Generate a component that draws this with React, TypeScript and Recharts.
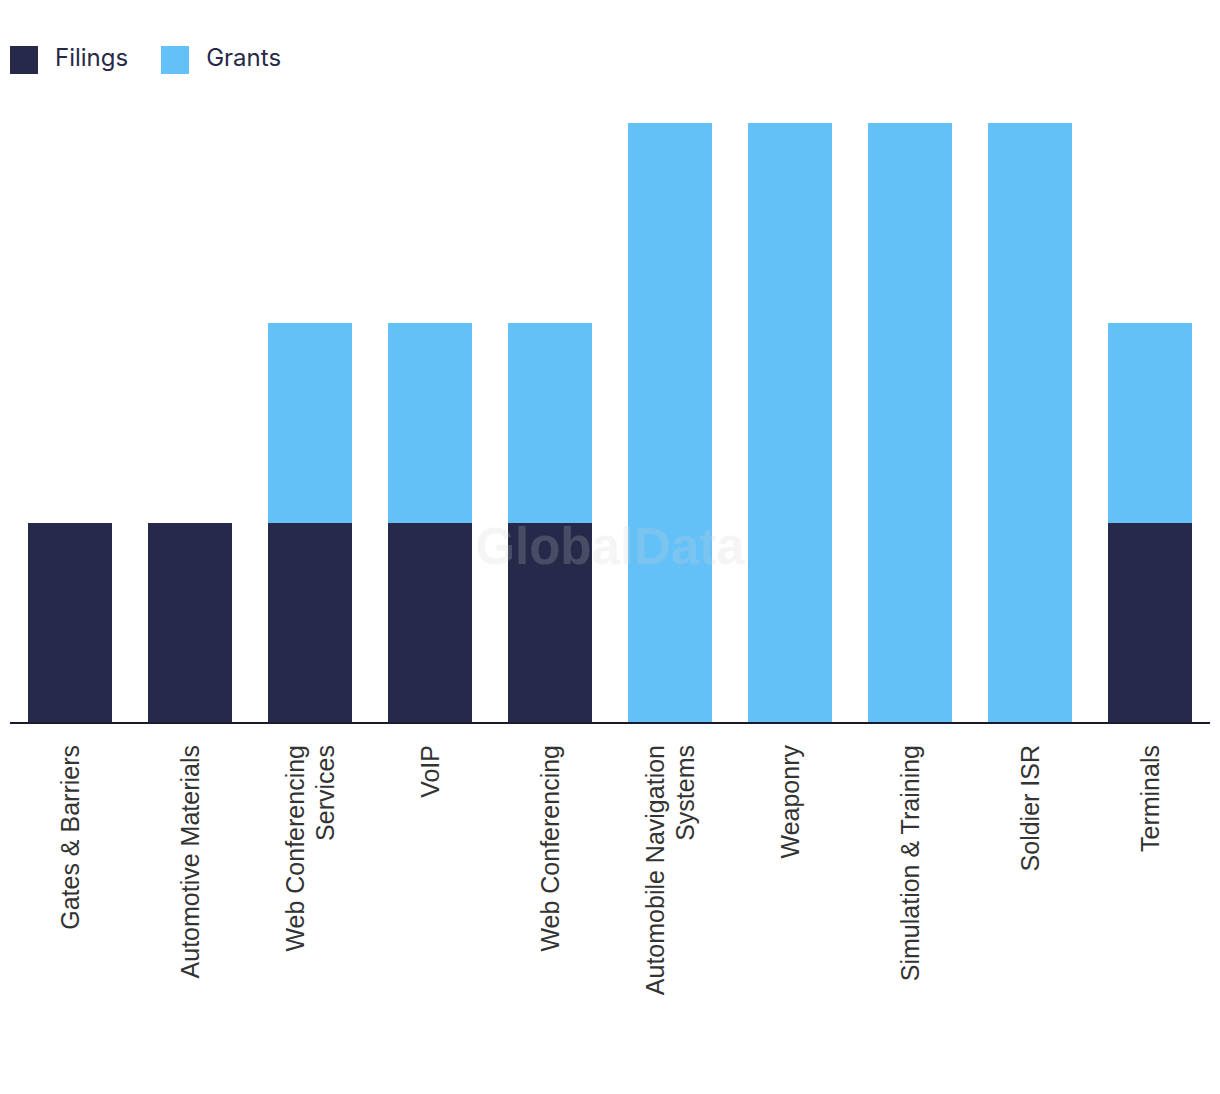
import { BarChart, Bar, XAxis, YAxis } from 'recharts';

const categories = [
  'Gates & Barriers',
  'Automotive Materials',
  'Web Conferencing Services',
  'VoIP',
  'Web Conferencing',
  'Automobile Navigation Systems',
  'Weaponry',
  'Simulation & Training',
  'Soldier ISR',
  'Terminals',
];
const filings = [1, 1, 1, 1, 1, 0, 0, 0, 0, 1];
const grants = [0, 0, 1, 1, 1, 3, 3, 3, 3, 1];

const FILINGS_COLOR = '#262949';
const GRANTS_COLOR = '#63c1f8';

const data = categories.map((name, i) => ({
  name,
  filings: filings[i],
  grants: grants[i],
}));

function wrapLabel(text: string, maxChars = 22) {
  const words = text.split(' ');
  const lines: string[] = [];
  let cur = '';
  for (const w of words) {
    const next = cur ? cur + ' ' + w : w;
    if (next.length > maxChars && cur) {
      lines.push(cur);
      cur = w;
    } else {
      cur = next;
    }
  }
  if (cur) lines.push(cur);
  return lines;
}

function CategoryTick(props: any) {
  const { x, payload } = props;
  const lines = wrapLabel(payload.value);
  const lineGap = 30;
  const start = -((lines.length - 1) * lineGap) / 2 + 9;
  return (
    <g transform={`translate(${x}, 745)`}>
      <text
        transform="rotate(-90)"
        textAnchor="end"
        fill="#333"
        fontSize={25}
        fontFamily="'Liberation Sans', Arial, sans-serif"
      >
        {lines.map((line, i) => (
          <tspan key={i} x={0} y={start + i * lineGap}>
            {line}
          </tspan>
        ))}
      </text>
    </g>
  );
}

function LegendBox() {
  const items = [
    { label: 'Filings', color: FILINGS_COLOR },
    { label: 'Grants', color: GRANTS_COLOR },
  ];
  return (
    <div style={{ position: 'absolute', left: 10, top: 46, display: 'flex', alignItems: 'center', height: 28 }}>
      {items.map((it) => (
        <div key={it.label} style={{ display: 'flex', alignItems: 'center', marginRight: 33 }}>
          <span style={{ width: 28, height: 28, background: it.color, display: 'inline-block', marginRight: 17 }} />
          <span
            style={{
              fontFamily: "Inter, 'Noto Sans', sans-serif",
              fontSize: 24,
              lineHeight: '24px',
              color: FILINGS_COLOR,
              position: 'relative',
              top: -2,
            }}
          >
            {it.label}
          </span>
        </div>
      ))}
    </div>
  );
}

export default function App() {
  return (
    <div style={{ position: 'relative', margin: '-8px 0 0 -8px', width: 1220, height: 1094 }}>
      <BarChart
        width={1220}
        height={1094}
        data={data}
        barCategoryGap="15%"
        margin={{ top: 123, right: 10, left: 10, bottom: 0 }}
      >
        <YAxis hide domain={[0, 3]} />
        <XAxis
          dataKey="name"
          interval={0}
          height={371}
          tickLine={false}
          axisLine={{ stroke: '#1a1a2e', strokeWidth: 2 }}
          tick={<CategoryTick />}
        />
        <Bar dataKey="filings" stackId="a" fill={FILINGS_COLOR} isAnimationActive={false} />
        <Bar dataKey="grants" stackId="a" fill={GRANTS_COLOR} isAnimationActive={false} />
      </BarChart>
      <LegendBox />
      <div
        style={{
          position: 'absolute',
          left: 0,
          width: 1220,
          top: 517,
          textAlign: 'center',
          fontFamily: "'Liberation Sans', Arial, sans-serif",
          fontWeight: 700,
          fontSize: 51,
          color: 'rgba(207,207,207,0.21)',
          pointerEvents: 'none',
        }}
      >
        GlobalData
      </div>
    </div>
  );
}
